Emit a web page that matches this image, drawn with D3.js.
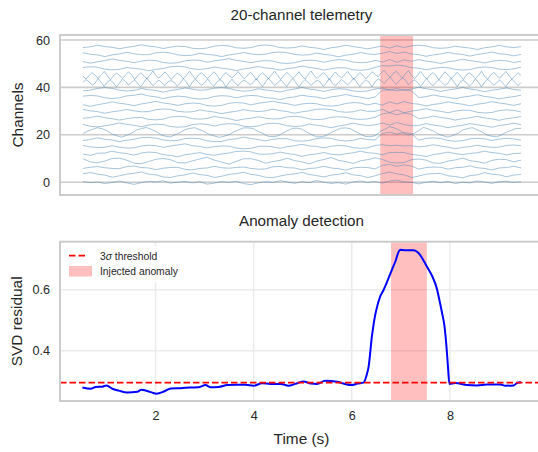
<!DOCTYPE html>
<html><head><meta charset="utf-8">
<script src="https://cdn.jsdelivr.net/npm/d3@7"></script>
<style>
body{margin:0;background:#fff}
text{font-family:"Liberation Sans",Arial,sans-serif;fill:#262626}
</style>
</head><body>
<svg id="c" width="538" height="452"></svg>
<script>
// ---------- DATA ----------
const channelOffsets = [0,3,6,9,12,15,18,21,24,27,30,33,36,39,42,45,48,51,54,57];
const channelStart = 0.52, channelEnd = 9.45;
const yTicksTop = [0,20,40,60];
const xTicksBottom = [2,4,6,8];
const yTicksBottom = [0.4,0.6];
const topSpan = [6.58, 7.25];
const bottomSpan = [6.80, 7.53];
const threshold = 0.296;

const ch00=[0.3,-0.2,0.1,-0.6,-0.1,0.5,-0.3,-0.9,-0.2,0.4,0.1,0.6,-0.4,0.0,0.3,-0.3,0.2,-0.8,-0.4,0.3,-0.1,0.4,-0.6,-1.0,-0.3,0.2,-0.1,0.6,0.1,-0.5,0.2,-0.2,0.7,0.0,-0.5,-0.2,-0.8,0.1,0.5,-0.1,0.3,-0.4,0.5,0.9,0.1,-0.1,-0.7,0.0,0.4,-0.2,0.3,-0.6,0.0,-0.3,0.5,0.1,-0.5,0.2,0.4,-0.1,0.2];
const ch01=[0.5,1.1,0.4,0.0,-0.9,-0.3,0.4,0.8,1.3,0.4,0.1,-0.8,-1.0,-0.3,0.1,0.9,0.2,-0.1,-1.0,-0.5,0.3,0.6,1.2,0.3,-0.1,-0.9,-1.1,-0.4,0.2,0.5,1.1,0.2,-0.2,-0.8,0.0,0.3,1.0,0.1,-0.2,-1.1,-0.3,0.6,1.3,0.5,0.1,-1.0,-0.4,0.4,0.6,0.7,-0.3,-0.6,-1.2,-0.2,0.1,1.0,0.4,0.1,-0.7,0.0,0.3];
const ch02=[-0.2,0.3,0.6,0.1,-0.2,-0.3,0.6,0.8,0.2,0.0,-0.7,-0.1,0.2,0.3,-0.6,-0.8,-0.2,0.0,0.7,0.1,-0.1,0.2,0.4,-0.2,-0.5,-0.4,0.5,0.7,0.1,0.0,-0.8,-0.2,0.0,0.7,0.0,-0.3,-0.9,0.0,0.3,0.2,-0.4,1.1,1.5,0.7,1.3,0.8,-0.5,0.2,0.4,0.3,-0.5,0.1,0.3,0.9,0.1,-0.2,-0.8,0.0,0.2,0.7,0.0];
const ch03=[0.9,-0.4,-0.8,-0.1,1.0,1.1,0.3,-1.0,-1.2,-0.3,0.7,1.0,0.5,-0.8,-0.9,0.0,0.8,1.5,0.3,-0.5,-1.4,-0.2,0.9,0.9,0.2,-1.0,-0.3,0.2,1.1,0.1,-0.4,-1.3,-0.1,0.6,1.4,0.2,-0.3,-1.1,0.0,0.5,1.3,0.6,-0.6,-0.9,-0.7,0.5,0.8,0.3,-0.9,-1.0,-0.1,0.4,1.2,0.1,-0.3,-1.0,0.2,0.7,0.5,-0.4,0.3];
const ch04=[-0.1,-0.7,0.2,0.3,1.1,0.4,0.1,-0.6,0.3,0.7,0.5,-0.4,-0.7,-1.3,-0.4,0.0,0.5,-0.3,-0.6,-0.1,0.3,1.0,1.1,0.8,-0.1,-0.2,0.0,0.7,0.1,-0.3,-1.1,-0.4,-0.1,0.5,-0.2,-0.5,0.0,0.4,1.1,0.4,0.2,-0.4,0.5,0.6,0.5,-0.3,-0.6,-1.2,-0.3,0.1,0.7,0.0,-0.3,0.1,0.4,1.1,0.5,0.2,-0.5,0.1,0.2];
const ch05=[0.5,-0.1,-0.4,-0.3,0.4,-0.2,-0.6,-0.5,0.3,0.6,0.4,-0.3,0.3,0.7,1.2,0.4,0.1,-0.5,0.0,0.3,0.2,-0.6,-0.9,-0.7,0.1,0.2,-0.1,-0.7,0.0,0.4,1.0,0.3,0.1,-0.5,0.2,0.5,0.3,-0.4,-0.7,-0.5,0.5,0.8,0.4,0.6,0.3,0.4,-0.1,0.2,0.8,0.2,-0.2,-0.9,-0.3,0.0,0.6,0.0,-0.3,-0.2,0.5,0.7,0.4];
const ch06=[-0.4,0.0,0.7,0.1,-0.2,-0.9,-0.3,0.1,0.8,0.9,0.6,-0.2,-0.5,-0.4,0.4,0.6,0.3,-0.5,-0.9,-0.8,0.0,0.3,1.0,0.4,0.0,-0.6,0.1,0.4,0.3,-0.5,-0.7,-0.4,0.4,0.7,0.5,-0.3,-0.6,-0.3,0.5,0.0,-0.2,2.5,3.1,2.3,3.0,2.4,-0.3,0.5,0.7,0.4,-0.4,-0.7,-0.5,0.3,0.5,0.3,-0.4,0.2,0.5,0.3,-0.3];
const ch07=[-0.5,0.6,1.3,2.0,1.5,0.7,-0.7,-1.4,-2.0,-1.2,-0.3,1.0,1.6,2.1,1.3,0.4,-1.0,-1.6,-1.9,-0.9,0.0,1.2,1.7,2.0,1.1,0.3,-0.9,-1.5,-2.1,-1.6,-1.0,0.3,1.1,1.9,1.9,1.6,0.4,-0.5,-1.6,-1.8,-1.5,-0.3,0.7,1.7,1.8,1.4,0.1,-0.9,-1.9,-1.8,-1.3,0.0,0.9,1.8,1.9,1.5,0.3,-0.6,-1.7,-1.8,-1.4,0.3,1.3,2.4,1.9,1.0,-0.5,-1.1,-0.4,0.8,2.1,1.4,0.6,-0.7,-1.4,-2.0,-1.3,-0.4,1.0,1.6,2.0,1.1,0.2,-1.1,-1.6,-1.9,-1.0,0.1,0.9,1.7,1.7];
const ch08=[0.4,-0.4,-0.7,-0.2,0.3,1.0,0.4,0.0,-0.6,0.1,0.5,0.3,-0.5,-0.8,-0.6,0.3,0.6,0.4,-0.3,0.4,0.7,0.5,-0.4,-0.6,-0.3,0.6,0.9,0.6,-0.2,-0.5,-0.3,0.5,0.0,-0.4,-1.0,-0.3,0.2,0.9,0.3,-0.1,0.2,1.0,0.1,1.2,0.3,-0.2,0.0,0.7,0.1,-0.3,-1.0,-0.4,0.0,0.7,0.2,-0.2,-0.8,-0.1,0.3,0.9,0.3];
const ch09=[0.0,0.3,0.9,0.2,-0.2,-0.8,-0.2,0.2,0.3,-0.5,-0.7,-0.4,0.5,0.8,0.6,-0.2,-0.4,-0.1,0.7,0.2,-0.2,-1.0,-0.4,0.0,0.6,0.0,-0.3,-0.2,0.6,0.8,0.5,-0.3,-0.6,-0.4,0.4,0.6,0.4,-0.3,-0.5,-0.3,0.4,1.8,2.3,1.5,2.2,1.6,-0.2,0.2,0.9,0.3,-0.1,-0.8,-0.2,0.2,0.8,0.1,-0.3,-0.9,-0.2,0.2,0.7];
const ch10=[0.7,0.1,-0.2,-0.9,-0.3,0.1,0.7,0.1,-0.3,-0.2,0.6,0.9,0.7,-0.1,-0.4,-0.3,0.5,0.0,-0.4,-1.1,-0.5,-0.1,0.6,0.1,-0.2,0.1,0.8,0.2,-0.2,-0.9,-0.3,0.1,0.8,0.9,0.6,-0.2,-0.5,-0.3,0.5,-0.1,-0.1,0.7,-0.6,0.5,-0.7,0.0,0.4,1.0,0.3,-0.1,-0.7,0.0,0.4,0.3,-0.5,-0.8,-0.6,0.2,0.5,0.3,-0.4];
const ch11=[-0.3,-1.0,-0.3,0.2,0.9,0.3,-0.1,-0.7,0.0,0.5,1.1,0.4,0.0,-0.6,0.1,0.4,0.2,-0.7,-0.9,-0.6,0.3,0.6,0.4,-0.4,0.3,0.7,1.2,0.5,0.1,-0.6,0.0,0.3,0.1,-0.7,-0.9,-0.6,0.2,0.6,0.4,-0.4,0.3,-0.5,0.9,0.0,1.0,0.2,-0.1,-0.8,-0.2,0.2,0.9,0.3,-0.1,-0.8,-0.1,0.3,1.0,0.4,0.0,-0.6,0.1];
const ch12=[0.3,0.6,0.4,-0.4,-0.7,-0.4,0.4,0.7,1.2,0.4,0.0,-0.7,-0.1,0.3,0.1,-0.6,-0.9,-0.7,0.2,0.5,0.3,-0.4,0.3,0.6,0.4,-0.3,-0.6,-1.2,-0.4,0.0,0.7,0.2,-0.1,-0.7,0.0,0.4,1.0,0.3,-0.1,-0.7,-0.1,2.8,3.0,2.6,3.1,2.5,-0.3,0.1,0.8,0.2,-0.2,-0.8,-0.1,0.3,0.9,0.2,-0.2,-0.9,-0.3,0.1,0.7];
const ch13=[-0.5,-0.2,0.6,0.9,0.6,-0.2,-0.5,-0.3,0.5,0.0,-0.3,-1.0,-0.3,0.1,0.8,0.2,-0.2,0.0,0.7,0.9,0.6,-0.2,-0.6,-0.4,0.4,-0.1,-0.4,-1.0,-0.2,0.3,1.0,0.3,-0.1,-0.7,0.0,0.4,0.2,-0.5,-0.8,-0.5,0.3,0.7,-0.1,0.5,-0.3,0.3,1.1,0.4,0.0,-0.7,-0.1,0.3,1.0,0.3,-0.1,-0.8,-0.2,0.2,0.8,0.1,-0.2];
const ch14=[0.1,1.3,0.4,-1.1,-0.2,1.7,0.1,-1.6,0.3,1.0,0.0,-1.8,-0.3,1.5,0.5,-1.0,0.2,1.2,-0.4,-1.7,0.1,1.9,0.3,-1.3,0.0,1.1,-0.2,-1.2,0.4,0.9,0.1,-1.5,-0.2,1.8,0.2,-1.8,0.3,1.4,0.0,-1.1,-0.1,1.6,-0.3,-1.5,0.2,1.2,0.4,-1.9,0.0,1.5,-0.2,-1.3,0.3,1.0,0.2,-0.9,0.1,1.7,0.0,-1.7,0.2,1.9,0.3,-1.2,-0.1,1.2,-0.2,-1.6,0.3,1.8,-0.1,-1.8,0.0,1.3,0.2,-1.2,0.2,1.0,0.3,-1.6,-0.1,1.7,-0.3,-1.4,0.2,1.3,0.2,-1.0,0.3,1.9,0.1,-1.7,0.0,1.2,0.2,-1.8,0.3,1.6,0.9,-0.4,1.2,2.3,0.6,-0.7,0.8,2.0,1.1,-0.9,0.4,1.2,0.0,-1.6,0.2,1.8,-0.1,-1.4,0.1,1.3,0.0,-1.2,-0.2,1.9,0.2,-1.7,0.3,1.1,0.1,-1.5,-0.2,1.6,0.1,-1.8,0.2,1.4,0.3,-1.1,0.0,1.2,-0.2,-1.7,0.2,1.5,0.1,-1.3,0.0];
const ch15=[-0.2,-1.5,0.0,1.2,0.2,-1.3,0.3,1.7,0.0,-1.8,-0.2,1.1,0.1,-1.2,0.2,1.6,0.3,-1.6,-0.1,1.2,0.0,-1.4,0.2,1.9,-0.1,-1.1,0.3,1.5,0.1,-1.7,-0.2,1.0,0.2,-1.3,0.0,1.8,0.1,-1.6,0.3,1.2,-0.2,-1.2,0.1,1.6,0.3,-1.8,0.0,1.3,-0.1,-1.0,0.2,1.7,0.1,-1.5,-0.2,1.4,0.2,-1.9,0.1,1.1,0.0,-1.3,0.3,1.8,0.1,-1.7,-0.1,1.3,0.2,-1.1,0.0,1.6,-0.2,-1.5,0.3,1.9,0.0,-1.2,0.1,1.2,0.2,-1.8,0.0,1.5,-0.1,-1.0,0.3,1.7,0.1,-1.6,-0.2,1.3,0.2,-1.4,0.0,1.6,0.6,-0.6,1.1,2.2,0.5,-0.8,0.9,1.8,0.3,-1.1,0.7,2.1,0.0,-1.3,0.2,1.7,-0.1,-1.5,0.2,1.2,0.1,-1.8,0.0,1.6,0.3,-1.2,-0.1,1.4,0.0,-1.7,0.2,1.1,0.1,-1.3,0.0,1.8,-0.2,-1.6,0.2,1.3,0.1,-1.1,0.3,1.7,0.0,-1.5,-0.1,1.2,0.1];
const ch16=[0.4,0.7,0.5,-0.3,-0.6,-0.4,0.4,0.0,-0.3,-1.0,-0.4,0.0,0.7,0.9,0.6,-0.2,-0.4,-0.1,0.6,0.1,-0.3,-0.9,-0.2,0.2,0.8,0.2,-0.1,-0.7,-0.1,0.3,1.0,0.4,0.0,-0.7,-0.1,0.3,0.2,-0.6,-0.8,-0.5,0.4,1.2,1.0,1.4,1.1,0.3,0.1,-0.6,0.0,0.4,0.3,-0.4,-0.7,-0.5,0.3,0.6,0.4,-0.3,-0.5,-0.2,0.5];
const ch17=[-0.1,-0.8,-0.2,0.3,1.0,0.4,0.0,-0.6,0.1,0.5,0.3,-0.5,-0.8,-0.6,0.2,0.5,0.4,-0.4,0.2,0.6,1.1,0.4,0.0,-0.6,0.0,0.3,0.1,-0.7,-0.9,-0.6,0.2,0.5,0.3,-0.4,0.3,0.7,0.5,-0.3,-0.6,-0.4,0.4,-0.3,0.7,-0.4,0.6,0.0,0.7,0.1,-0.3,-0.9,-0.2,0.2,0.9,0.3,-0.1,-0.7,0.0,0.4,0.2,-0.5,0.0];
const ch18=[0.6,0.0,-0.3,-1.0,-0.3,0.1,0.8,0.2,-0.2,-0.2,0.6,0.8,0.5,-0.3,-0.6,-0.4,0.4,-0.1,-0.4,-1.0,-0.3,0.1,0.7,0.1,-0.2,0.0,0.7,0.9,0.6,-0.1,-0.4,-0.2,0.5,-0.1,-0.4,-1.1,-0.4,0.0,0.7,0.1,-0.1,0.4,1.1,0.3,0.9,0.1,-0.2,-0.9,-0.3,0.1,0.8,0.2,-0.1,-0.8,-0.1,0.3,0.9,0.2,-0.1,-0.7,-0.1];
const ch19=[-0.2,0.1,0.8,0.2,-0.1,-0.7,-0.1,0.3,1.0,0.4,0.1,-0.6,0.0,0.4,0.2,-0.5,-0.7,-0.4,0.4,0.7,0.5,-0.3,-0.5,-0.2,0.6,0.9,0.6,-0.2,-0.4,-0.2,0.5,-0.1,-0.4,-1.0,-0.3,0.1,0.8,0.2,-0.2,-0.8,-0.1,0.4,-0.4,0.5,-0.2,0.6,0.8,0.5,-0.3,-0.5,-0.3,0.4,-0.1,-0.4,-1.0,-0.3,0.1,0.7,0.1,-0.2,0.2];
const channels=[ch00,ch01,ch02,ch03,ch04,ch05,ch06,ch07,ch08,ch09,ch10,ch11,ch12,ch13,ch14,ch15,ch16,ch17,ch18,ch19];

const residualTime=[0.51,0.68,0.78,0.92,1.0,1.12,1.25,1.42,1.63,1.71,1.83,2.02,2.17,2.31,2.51,2.71,2.88,3.02,3.12,3.29,3.46,3.66,3.83,4.0,4.17,4.34,4.55,4.71,4.85,5.02,5.16,5.29,5.46,5.70,5.83,6.0,6.12,6.24,6.31,6.34,6.41,6.46,6.50,6.58,6.65,6.75,6.82,6.89,6.96,6.99,7.09,7.26,7.36,7.53,7.64,7.74,7.77,7.84,7.89,7.93,7.96,7.99,8.11,8.35,8.55,8.76,9.03,9.13,9.30,9.37,9.45];
const residualValue=[0.280,0.276,0.282,0.283,0.287,0.276,0.270,0.264,0.266,0.273,0.269,0.260,0.267,0.277,0.278,0.280,0.281,0.288,0.281,0.282,0.288,0.289,0.289,0.286,0.294,0.292,0.292,0.286,0.292,0.300,0.293,0.292,0.302,0.299,0.293,0.288,0.293,0.296,0.325,0.345,0.447,0.502,0.534,0.578,0.600,0.638,0.666,0.693,0.726,0.731,0.729,0.729,0.720,0.676,0.644,0.600,0.578,0.524,0.480,0.414,0.349,0.292,0.295,0.288,0.287,0.290,0.290,0.286,0.287,0.295,0.297];

// ---------- LAYOUT ----------
const svg = d3.select('#c');
const L = 60, R = 543;
const topA = {t:35, b:195}, botA = {t:241.7, b:401};
const x = d3.scaleLinear().domain([0.0525, 9.8975]).range([L, R]);
const yTop = d3.scaleLinear().domain([-5.4, 62.1]).range([topA.b, topA.t]);
const yBot = d3.scaleLinear().domain([0.236, 0.757]).range([botA.b, botA.t]);
const FONT = '"Liberation Sans",Arial,sans-serif';

svg.append('rect').attr('width',538).attr('height',452).attr('fill','#fff');

// ---------- TOP PANEL ----------
const gT = svg.append('g');
gT.append('g').selectAll('line').data(yTicksTop).join('line')
  .attr('x1',L).attr('x2',R).attr('y1',d=>yTop(d)).attr('y2',d=>yTop(d))
  .attr('stroke','#cccccc').attr('stroke-width',1.6);
gT.append('rect').attr('x',x(topSpan[0])).attr('width',x(topSpan[1])-x(topSpan[0]))
  .attr('y',topA.t).attr('height',topA.b-topA.t).attr('fill','red').attr('opacity',0.25);
const lineTop = d3.line().x(d=>x(d[0])).y(d=>yTop(d[1]));
channels.forEach((arr,k)=>{
  const n = arr.length;
  const pts = arr.map((v,i)=>[channelStart + i*(channelEnd-channelStart)/(n-1), channelOffsets[k]+v]);
  gT.append('path').attr('d',lineTop(pts)).attr('fill','none')
    .attr('stroke','#4682b4').attr('stroke-opacity',0.6).attr('stroke-width',0.8);
});
gT.append('rect').attr('x',L).attr('y',topA.t).attr('width',R-L).attr('height',topA.b-topA.t)
  .attr('fill','none').attr('stroke','#cccccc').attr('stroke-width',2);
const axT = gT.append('g').attr('transform',`translate(${L},0)`)
  .call(d3.axisLeft(yTop).tickValues(yTicksTop).tickSize(0).tickPadding(10));
axT.select('.domain').remove();
axT.selectAll('text').attr('font-size',12.6).attr('fill','#262626').style('font-family',FONT);
svg.append('text').attr('x',(L+R)/2).attr('y',19.5).attr('text-anchor','middle').attr('font-size',15.2).text('20-channel telemetry');
svg.append('text').attr('transform',`translate(23,${(topA.t+topA.b)/2}) rotate(-90)`).attr('text-anchor','middle').attr('font-size',15.4).text('Channels');

// ---------- BOTTOM PANEL ----------
const gB = svg.append('g');
gB.append('g').selectAll('line').data(yTicksBottom).join('line')
  .attr('x1',L).attr('x2',R).attr('y1',d=>yBot(d)).attr('y2',d=>yBot(d))
  .attr('stroke','#ebebeb').attr('stroke-width',1.5);
gB.append('g').selectAll('line').data(xTicksBottom).join('line')
  .attr('x1',d=>x(d)).attr('x2',d=>x(d)).attr('y1',botA.t).attr('y2',botA.b)
  .attr('stroke','#ebebeb').attr('stroke-width',1.5);
gB.append('rect').attr('x',x(bottomSpan[0])).attr('width',x(bottomSpan[1])-x(bottomSpan[0]))
  .attr('y',botA.t).attr('height',botA.b-botA.t).attr('fill','red').attr('opacity',0.25);
const lineBot = d3.line().x(d=>x(d[0])).y(d=>yBot(d[1])).curve(d3.curveMonotoneX);
gB.append('path').attr('d',lineBot(residualTime.map((t,i)=>[t,residualValue[i]])))
  .attr('fill','none').attr('stroke','#0000ff').attr('stroke-width',2).attr('stroke-linejoin','round');
gB.append('line').attr('x1',L).attr('x2',R).attr('y1',yBot(threshold)).attr('y2',yBot(threshold))
  .attr('stroke','#ff0000').attr('stroke-width',1.8).attr('stroke-dasharray','6.5,3');
gB.append('rect').attr('x',L).attr('y',botA.t).attr('width',R-L).attr('height',botA.b-botA.t)
  .attr('fill','none').attr('stroke','#cccccc').attr('stroke-width',2);
const axBL = gB.append('g').attr('transform',`translate(${L},0)`)
  .call(d3.axisLeft(yBot).tickValues(yTicksBottom).tickFormat(d3.format('.1f')).tickSize(0).tickPadding(10));
axBL.select('.domain').remove();
const axBB = gB.append('g').attr('transform',`translate(0,${botA.b})`)
  .call(d3.axisBottom(x).tickValues(xTicksBottom).tickFormat(d3.format('d')).tickSize(0).tickPadding(10));
axBB.select('.domain').remove();
gB.selectAll('.tick text').attr('font-size',12.6).attr('fill','#262626').style('font-family',FONT);
svg.append('text').attr('x',(L+R)/2).attr('y',226).attr('text-anchor','middle').attr('font-size',15.2).text('Anomaly detection');
svg.append('text').attr('transform',`translate(21.7,${(botA.t+botA.b)/2}) rotate(-90)`).attr('text-anchor','middle').attr('font-size',15.4).text('SVD residual');
svg.append('text').attr('x',(L+R)/2).attr('y',443.5).attr('text-anchor','middle').attr('font-size',15.4).text('Time (s)');

// legend
const lg = svg.append('g');
lg.append('rect').attr('x',64).attr('y',246).attr('width',122).attr('height',36).attr('rx',3)
  .attr('fill','#fff').attr('opacity',0.8);
lg.append('line').attr('x1',69).attr('x2',88).attr('y1',255.7).attr('y2',255.7)
  .attr('stroke','#ff0000').attr('stroke-width',1.8).attr('stroke-dasharray','6.5,3');
const t1 = lg.append('text').attr('x',100).attr('y',259.5).attr('font-size',10.3);
t1.append('tspan').text('3');
t1.append('tspan').attr('font-style','italic').text('σ');
t1.append('tspan').text(' threshold');
lg.append('rect').attr('x',69).attr('y',266).attr('width',23).attr('height',10.5).attr('fill','red').attr('opacity',0.25);
lg.append('text').attr('x',100).attr('y',275).attr('font-size',10.3).text('Injected anomaly');
</script>
</body></html>
